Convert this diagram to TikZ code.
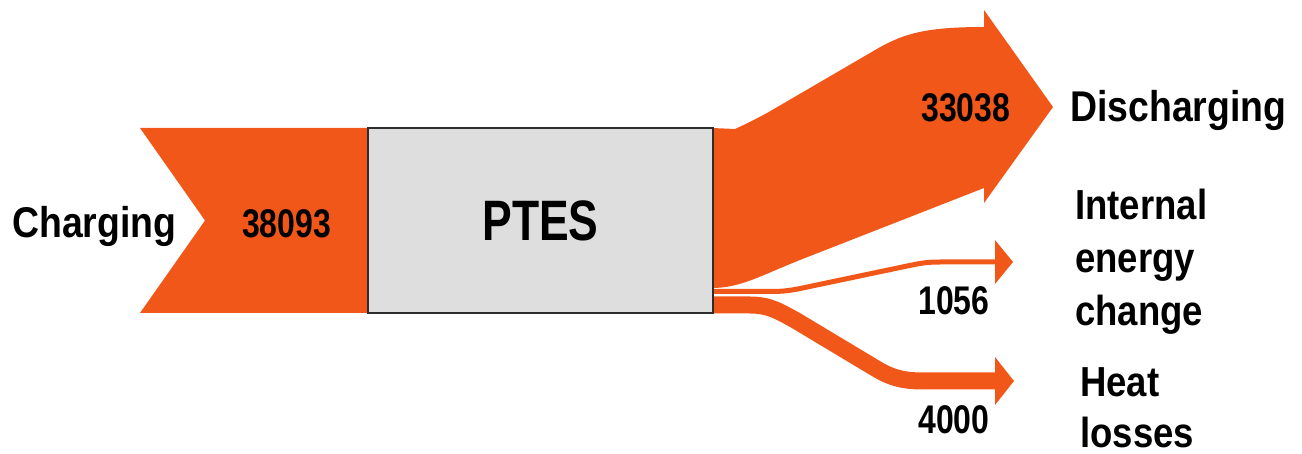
\documentclass[tikz,border=0pt]{standalone}
\usepackage{fontspec}
\newfontfamily\labfont{Liberation Sans}[FakeStretch=0.87]
\newfontfamily\numfont{Liberation Sans}[FakeStretch=0.80]
\newfontfamily\boxfont{Liberation Sans}[FakeStretch=0.78]
\definecolor{flow}{RGB}{242,87,26}
\definecolor{boxfill}{RGB}{222,222,222}
\definecolor{boxline}{RGB}{45,45,45}
\tikzset{
  flowfill/.style={fill=flow, draw=none},
  flowline/.style={draw=flow, line cap=butt},
  lbl/.style={anchor=base west, inner sep=0pt, font=\labfont\bfseries\fontsize{42}{42}\selectfont},
  num/.style={anchor=base west, inner sep=0pt, font=\numfont\bfseries\fontsize{40}{40}\selectfont},
  storebox/.style={draw=boxline, fill=boxfill, line width=1.6pt, minimum width=345pt, minimum height=185pt, inner sep=0pt,
    font=\boxfont\bfseries\fontsize{57}{57}\selectfont}
}
\begin{document}
\begin{tikzpicture}[x=1pt,y=-1pt]
\useasboundingbox (0,0) rectangle (1302,454);
% Charging flow
\fill[flowfill] (140,128) -- (369,128) -- (369,313) -- (140,313) -- (205,220.5) -- cycle;
% Discharging flow
\fill[flowfill] (712,128) -- (735,129) .. controls (750,122) .. (767,113) -- (870,53)
  .. controls (900,35) and (920,27) .. (984,27) -- (984,10) -- (1053,107) -- (984,203) -- (984,188)
  -- (800,260) .. controls (760,276) and (740,288) .. (712,288) -- cycle;
% Internal energy change flow
\draw[flowline, line width=5pt] (712,291.5) -- (772,291.5) .. controls (788,291.5) and (798,289) .. (812,286)
  -- (912,265) .. controls (922,263) and (928,262) .. (940,262) -- (996,262);
\fill[flowfill] (995,240) -- (1013,262) -- (995,284) -- cycle;
% Heat losses flow
\draw[flowline, line width=17pt] (712,305) -- (750,305) .. controls (770,305) and (780,312) .. (795,320)
  -- (875,368) .. controls (893,379) and (905,381) .. (925,381) -- (996,381);
\fill[flowfill] (995,357) -- (1014,381) -- (995,405) -- cycle;
% Storage box
\node[storebox] (ptes) at (540.5,220.5) {PTES};
% Labels
\node[lbl, font=\labfont\bfseries\fontsize{43}{43}\selectfont] (charging) at (12,238) {Charging};
\node[num] (vin) at (242,238) {38093};
\node[num] (vdis) at (921,122) {33038};
\node[lbl, font=\labfont\bfseries\fontsize{43}{43}\selectfont] (dis) at (1070,122) {Discharging};
\node[lbl] (int1) at (1075,220) {Internal};
\node[lbl] (int2) at (1075,273) {energy};
\node[lbl] (int3) at (1075,326) {change};
\node[num] (vint) at (918,315) {1056};
\node[lbl] (heat1) at (1080,397) {Heat};
\node[lbl] (heat2) at (1080,447) {losses};
\node[num] (vheat) at (918,433) {4000};
\end{tikzpicture}
\end{document}
